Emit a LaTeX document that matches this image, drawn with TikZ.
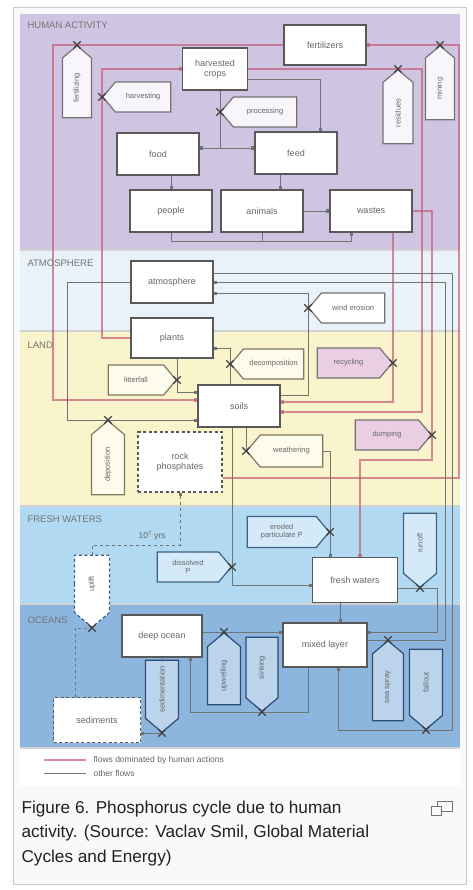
\documentclass[tikz,border=0pt]{standalone}
\usepackage{fontspec}
\setmainfont{Liberation Sans}
\usetikzlibrary{arrows.meta,positioning,shapes.symbols,shapes.misc}
\definecolor{humanLilac}{RGB}{207,197,227}
\definecolor{airWhite}{RGB}{233,241,249}
\definecolor{landCream}{RGB}{250,244,205}
\definecolor{freshBlue}{RGB}{178,217,242}
\definecolor{oceanBlue}{RGB}{141,182,222}
\definecolor{humanRed}{RGB}{196,92,118}
\definecolor{pinkFill}{RGB}{234,206,228}
\definecolor{landEdge}{RGB}{125,120,95}
\definecolor{freshEdge}{RGB}{60,95,130}
\definecolor{oceanEdge}{RGB}{45,75,115}
\definecolor{frameGray}{RGB}{200,204,209}
\definecolor{frameBg}{RGB}{248,249,250}

\begin{document}
\begin{tikzpicture}[x=1pt,y=-1pt,font=\fontsize{9}{10}\selectfont,
  box/.style={draw=black!65,line width=1.6pt,fill=white,minimum width=82pt,minimum height=42pt,
    align=center,text=black!60,inner sep=1pt},
  dashbox/.style={box,dash pattern=on 3pt off 2.5pt},
  flow/.style={signal,draw=black!55,line width=1.2pt,fill=white!85!humanLilac,signal pointer angle=100,
    minimum height=30pt,align=center,text=black!60,inner sep=1pt,font=\fontsize{7.5}{8}\selectfont},
  flowLand/.style={flow,draw=landEdge,fill=white!60!landCream},
  flowPink/.style={flow,fill=pinkFill},
  flowFresh/.style={flow,draw=freshEdge,fill=white!45!freshBlue},
  flowOcean/.style={flow,draw=oceanEdge,fill=white!40!oceanBlue},
  valve/.style={cross out,draw=black!75,line width=1.3pt,minimum size=6pt,inner sep=0pt},
  hum/.style={draw=humanRed,line width=2.2pt,draw opacity=.7,-{Square[length=3.2pt,width=3.2pt]}},
  oth/.style={draw=black!55,line width=.9pt,-{Square[length=3pt,width=3pt]}},
  band/.style={anchor=west,text=black!55,font=\fontsize{9.5}{10}\selectfont},
  legend/.style={anchor=west,text=black!60,font=\fontsize{8.5}{9}\selectfont}]
 \useasboundingbox (0,0) rectangle (472,890);
 \fill[white] (0,0) rectangle (472,890);
 \draw[frameGray,fill=frameBg] (13,7) rectangle (466,884);
 % bands
 \fill[humanLilac] (20,14) rectangle (460,250);
 \fill[airWhite] (20,250) rectangle (460,331);
 \fill[landCream] (20,331) rectangle (460,506);
 \fill[freshBlue] (20,506) rectangle (460,604);
 \fill[oceanBlue] (20,604) rectangle (460,748);
 \fill[white] (20,748) rectangle (460,786);
 \foreach \y in {250,331,506,604,748}
   \draw[black!18,line width=1.2pt] (20,\y) -- (460,\y);
 \node[band] (bandHum) at (24,25) {HUMAN ACTIVITY};
 \node[band] (bandAir) at (24,263) {ATMOSPHERE};
 \node[band] (bandLand) at (24,345) {LAND};
 \node[band] (bandFresh) at (24,519) {FRESH WATERS};
 \node[band] (bandOcean) at (24,620) {OCEANS};

 % reservoirs
 \node[box,minimum width=65pt] (crops) at (215,69) {harvested\\crops};
 \node[box,minimum height=40pt] (fert) at (325,45) {fertilizers};
 \node[box] (food) at (158,154) {food};
 \node[box] (feed) at (296,153) {feed};
 \node[box] (people) at (171,211) {people};
 \node[box] (animals) at (262,211) {animals};
 \node[box] (wastes) at (371,211) {wastes};
 \node[box] (atmos) at (172,282) {atmosphere};
 \node[box,minimum height=40pt] (plants) at (172,338) {plants};
 \node[box] (soils) at (239,406) {soils};
 \node[dashbox,minimum width=84pt,minimum height=60pt] (rock) at (180,462) {rock\\phosphates};
 \node[box,minimum width=85pt,minimum height=45pt] (fresh) at (355,580) {fresh waters};
 \node[box,minimum width=80pt] (deep) at (162,636) {deep ocean};
 \node[box,minimum width=84pt,minimum height=44pt] (mixed) at (325,645) {mixed layer};
 \node[dashbox,minimum width=87pt,minimum height=45pt] (sedim) at (97,720) {sediments};

 % flows
 \node[flow,rotate=90,signal to=east,anchor=east,minimum width=72pt,minimum height=29pt] (fertF) at (77,45) {fertilizing};
 \node[flow,signal to=west,anchor=west,minimum width=68pt] (harvF) at (102,97) {harvesting};
 \node[flow,signal to=west,anchor=west,minimum width=76pt] (procF) at (220,112) {processing};
 \node[flow,rotate=90,signal to=east,anchor=east,minimum width=74pt] (resF) at (398,69) {residues};
 \node[flow,rotate=90,signal to=east,anchor=east,minimum width=74pt,minimum height=29pt] (mineF) at (440,45) {mining};
 \node[flow,fill=white,signal to=west,anchor=west,minimum width=76pt] (windF) at (308,308) {wind erosion};
 \node[flowLand,signal to=east,anchor=east,minimum width=68pt] (litF) at (177,380) {litterfall};
 \node[flowLand,signal to=west,anchor=west,minimum width=73pt] (decF) at (230,364) {decomposition};
 \node[flowPink,signal to=east,anchor=east,minimum width=75pt] (recF) at (393,363) {recycling};
 \node[flowPink,signal to=east,anchor=east,minimum width=76pt] (dumpF) at (432,435) {dumping};
 \node[flowLand,signal to=west,anchor=west,minimum width=76pt,minimum height=32pt] (weaF) at (246,451) {weathering};
 \node[flowLand,rotate=90,signal to=east,anchor=east,minimum width=74pt,minimum height=33pt] (depF) at (108,420) {deposition};
 \node[flowFresh,signal to=east,anchor=east,minimum width=74pt] (dissF) at (232,567) {dissolved\\P};
 \node[flowFresh,signal to=east,anchor=east,minimum width=82pt,minimum height=31pt] (eroF) at (330,532) {eroded\\particulate P};
 \node[flowFresh,rotate=90,signal to=west,anchor=west,minimum width=74pt,minimum height=33pt] (runF) at (420,588) {runoff};
 \node[flowFresh,fill=white,dash pattern=on 3pt off 2.5pt,rotate=90,signal to=west,anchor=west,minimum width=72pt,minimum height=35pt] (upF) at (92,628) {uplift};
 \node[flowOcean,rotate=90,signal to=west,anchor=west,minimum width=72pt,minimum height=33pt] (sedF) at (162,733) {sedimentation};
 \node[flowOcean,rotate=90,signal to=east,anchor=east,minimum width=72pt,minimum height=33pt] (upwF) at (224,632) {upwelling};
 \node[flowOcean,rotate=90,signal to=west,anchor=west,minimum width=74pt,minimum height=32pt] (sinkF) at (262,712) {sinking};
 \node[flowOcean,rotate=90,signal to=east,anchor=east,minimum width=80pt,minimum height=31pt] (sprayF) at (388,640) {sea spray};
 \node[flowOcean,rotate=90,signal to=west,anchor=west,minimum width=80pt,minimum height=33pt] (fallF) at (426,730) {fallout};

 % flows dominated by human actions
 \draw[hum] (fert.west) -- (53,45) |- ([yshift=6]soils.west);
 \draw[hum] (plants.west) -- (102,338) -- (102,69) -- (crops.west);
 \draw[hum] ([yshift=-16]rock.east) -- (459,478) |- (fert.east);
 \draw[hum] (crops.east) -- (422,69) |- ([yshift=-6]soils.east);
 \draw[hum] ([xshift=22]wastes.south) |- ([yshift=4]soils.east);
 \draw[hum] (wastes.east) -| (432,460) -| ([xshift=5]fresh.north);

 % other flows
 \draw[oth] ([xshift=5]crops.south) |- ([yshift=6]food.east);
 \draw[oth] ([xshift=5]crops.south) |- ([yshift=5]feed.west);
 \draw[oth] ([yshift=-10]crops.east) -| ([xshift=24]feed.north);
 \draw[oth] (people.north |- food.south) -- (people.north);
 \draw[oth] ([xshift=-16]feed.south) -- ([xshift=18]animals.north);
 \draw[oth] (animals.east) -- (wastes.west);
 \draw[oth] (people.south) -- ++(0,9) -| ([xshift=-20]wastes.south);
 \draw[oth,-] (animals.south) -- ++(0,9);
 \draw[oth] (atmos.west) -- (67,282) |- ([yshift=-14]soils.west);
 \draw[oth] ([yshift=11]soils.east) -| (308,293) -- ([yshift=-11]atmos.east);
 \draw[oth] ([xshift=5]plants.south) |- ([yshift=14]soils.west);
 \draw[oth] ([xshift=-9]soils.north) |- ([yshift=-10]plants.east);
 \draw[oth,-] ([xshift=7]soils.south) -- (weaF.west);
 \draw[oth] (weaF.east) -| ([xshift=-25]fresh.north);
 \draw[oth] ([xshift=-7]soils.south) |- ([yshift=-5]fresh.west);
 \draw[oth] ([yshift=-8]fresh.east) -- (437,588) |- ([yshift=13]mixed.east);
 \draw[oth] ([xshift=-15]fresh.south) -- ([xshift=15]mixed.north);
 \draw[oth] ([yshift=4]deep.east) -- ([yshift=13]mixed.west);
 \draw[oth] ([xshift=-17]mixed.south) -- (308,712) -| ([xshift=28]deep.south);
 \draw[oth,-] (deep.south) -- (sedF.east);
 \draw[oth] (sedF.west) -- ([yshift=-13]sedim.east);
 \draw[oth] ([yshift=5]mixed.east) -- (445,640) |- (atmos.east);
 \draw[oth] ([yshift=9]atmos.east) -- (452,273) -- (452,730) -| ([xshift=13]mixed.south);
 \draw[oth,-,dashed] ([xshift=-22]sedim.north) |- (upF.west);
 \draw[oth,dashed] (upF.east) -- (92,545) -| (rock.south);
 \node[text=black!60,font=\fontsize{8.5}{9}\selectfont] (uplTime) at (152,536) {10\textsuperscript{7} yrs};

 % valves
 \foreach \f/\a in {fertF/east,harvF/west,procF/west,resF/east,mineF/east,windF/west,litF/east,
     decF/west,recF/east,dumpF/east,weaF/west,depF/east,dissF/east,eroF/east,runF/west,upF/west,
     sedF/west,upwF/east,sinkF/west,sprayF/east,fallF/west}
   \node[valve] (v\f) at (\f.\a) {};

 % legend
 \coordinate (legHumA) at (44,760);
 \coordinate (legHumB) at (86,760);
 \coordinate (legOthA) at (44,773);
 \coordinate (legOthB) at (86,773);
 \draw[hum,-] (legHumA) -- (legHumB);
 \draw[oth,-] (legOthA) -- (legOthB);
 \node[legend] (legHumT) at (90,760) {flows dominated by human actions};
 \node[legend] (legOthT) at (90,773) {other flows};

 % caption
 \node[anchor=north west,align=left,text=black!87,font=\fontsize{17.2}{24.8}\selectfont] (caption) at (18,797)
   {Figure 6. Phosphorus cycle due to human\\activity. (Source: Vaclav Smil, Global Material\\Cycles and Energy)};
 \draw[black!55,line width=1pt] (437,801) rectangle (452,811);
 \draw[black!55,line width=1pt,fill=frameBg] (431,806) rectangle (441,815);
\end{tikzpicture}
\end{document}
